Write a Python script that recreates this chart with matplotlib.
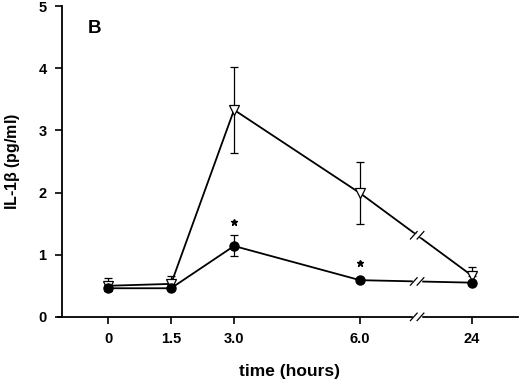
import matplotlib.pyplot as plt
import numpy as np

plt.rcParams['font.family'] = ['Liberation Sans', 'DejaVu Sans']

# data
time_labels = ['0', '1.5', '3.0', '6.0', '24']
time_pos = [0, 1.5, 3.0, 6.0, 8.67]   # 24 h drawn after an axis break
break_x = 7.36

tri_mean = [0.50, 0.53, 3.33, 1.99, 0.66]
tri_err_up = [0.13, 0.12, 0.69, 0.50, 0.14]
tri_err_dn = [0.0, 0.0, 0.69, 0.49, 0.0]

dot_mean = [0.46, 0.46, 1.14, 0.59, 0.55]
dot_err_up = [0.05, 0.04, 0.17, 0.03, 0.03]
dot_err_dn = [0.05, 0.03, 0.16, 0.03, 0.03]

star_pos = [3.0, 6.0]
star_y = [1.52, 0.87]

fig = plt.figure(figsize=(5.2, 3.79), dpi=100)
ax = fig.add_axes([0.119, 0.164, 0.877, 0.82])

ax.errorbar(time_pos, tri_mean, yerr=[tri_err_dn, tri_err_up], color='black',
            lw=1.3, elinewidth=0.9, capsize=3, capthick=0.9,
            marker='v', markersize=7, markerfacecolor='white',
            markeredgecolor='black', markeredgewidth=0.9, zorder=3)
ax.errorbar(time_pos, dot_mean, yerr=[dot_err_dn, dot_err_up], color='black',
            lw=1.3, elinewidth=0.9, capsize=3, capthick=0.9,
            marker='o', markersize=6.5, markerfacecolor='black',
            markeredgecolor='black', zorder=4)
ax.plot(star_pos, star_y, ls='none', marker='*', color='black', markersize=5)

ax.set_xlim(-1.1, 9.76)
ax.set_ylim(0, 5)
ax.set_xticks(time_pos)
ax.set_xticklabels(time_labels)
ax.set_yticks(range(6))
for s in ['top', 'right']:
    ax.spines[s].set_visible(False)
ax.spines['left'].set_linewidth(1.3)
ax.spines['bottom'].set_linewidth(1.3)
ax.spines['bottom'].set_bounds(-1.2, 9.76)
ax.tick_params(direction='out', length=5, width=1.2, labelsize=10.5, pad=6)
for lab in ax.get_xticklabels() + ax.get_yticklabels():
    lab.set_fontweight('bold')

ax.set_xlabel('time (hours)', fontsize=12.5, fontweight='bold', labelpad=13)
ax.set_ylabel(r'IL-1$\mathregular{\beta}$ (pg/ml)', fontsize=11.5,
              fontweight='bold')
ax.yaxis.set_label_coords(-0.088, 0.5)
ax.text(0.057, 0.955, 'B', transform=ax.transAxes, fontsize=13.5,
        fontweight='bold', va='top')


# break marks on the axis and on both lines
def draw_break(y, in_axes=False):
    trans = ax.get_xaxis_transform() if in_axes else ax.transData
    dx, dy = 0.08, 0.06 if not in_axes else 0.012
    for off in (-0.08, 0.08):
        ax.plot([break_x + off - dx, break_x + off + dx], [y - dy, y + dy],
                color='black', lw=0.9, transform=trans, clip_on=False, zorder=6)
    ax.plot([break_x - 0.08, break_x + 0.08], [y, y], color='white', lw=2.5,
            transform=trans, clip_on=False, zorder=5)


draw_break(0, in_axes=True)
for series in (tri_mean, dot_mean):
    yb = np.interp(break_x, time_pos, series)
    draw_break(yb)

fig.savefig('out.png', dpi=100)
